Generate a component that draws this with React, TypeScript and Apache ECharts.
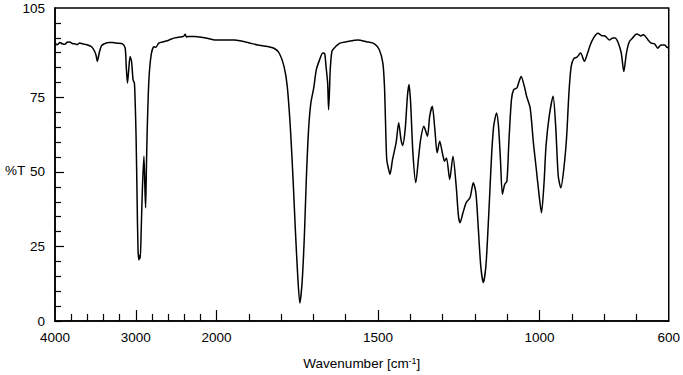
import React, { useEffect, useRef } from "react";
import * as echarts from "echarts";

// Wavenumber (cm-1) and %T
const wavenumbers = [
  4000, 3970, 3939, 3910, 3878, 3850, 3816, 3785, 3755, 3725, 3694, 3660, 3633, 3596, 3547, 3510, 3490, 3477, 3462, 3449,
  3425, 3388, 3327, 3287, 3229, 3164, 3131, 3119, 3103, 3088, 3070, 3052, 3033, 3017, 3009, 2996, 2984, 2972, 2960, 2951,
  2944, 2932, 2917, 2899, 2887, 2878, 2869, 2858, 2837, 2809, 2776, 2751, 2715, 2654, 2592, 2531, 2470, 2409, 2388, 2372,
  2348, 2274, 2189, 2103, 2021, 1980, 1944, 1903, 1873, 1842, 1822, 1806, 1791, 1781, 1771, 1763, 1756, 1748, 1742, 1735,
  1728, 1722, 1715, 1708, 1699, 1691, 1681, 1671, 1665, 1661, 1656, 1653, 1650, 1648, 1643, 1636, 1618, 1597, 1562, 1536,
  1511, 1496, 1485, 1480, 1477, 1473, 1467, 1463, 1455, 1444, 1436, 1429, 1424, 1416, 1409, 1404, 1399, 1392, 1383, 1375,
  1368, 1358, 1347, 1340, 1332, 1324, 1317, 1309, 1300, 1294, 1288, 1278, 1268, 1258, 1251, 1246, 1237, 1227, 1215, 1205,
  1197, 1190, 1182, 1174, 1166, 1159, 1154, 1148, 1142, 1133, 1127, 1121, 1115, 1108, 1101, 1095, 1087, 1080, 1070, 1065,
  1057, 1047, 1040, 1029, 1019, 1011, 1001, 994, 986, 980, 970, 958, 950, 942, 934, 924, 916, 909, 902, 894,
  884, 873, 861, 853, 843, 833, 819, 807, 797, 784, 773, 766, 756, 747, 739, 731, 722, 712, 700, 692,
  686, 680, 674, 664, 654, 644, 634, 624, 613, 606, 600,
];
const transmittance = [
  93.0, 92.7, 93.4, 93.0, 92.8, 93.5, 93.6, 93.1, 93.0, 92.7, 93.3, 93.0, 92.8, 92.6, 92.0, 90.5, 89.0, 87.1, 88.6, 90.3,
  92.3, 93.0, 93.4, 93.4, 93.2, 93.0, 91.5, 86.0, 79.8, 84.0, 88.7, 87.0, 80.9, 79.8, 75.0, 62.0, 42.0, 24.0, 20.5, 22.0,
  21.0, 31.0, 45.0, 55.3, 45.0, 38.0, 50.0, 64.2, 81.0, 89.3, 92.0, 91.8, 93.2, 93.7, 94.2, 94.9, 95.2, 95.5, 96.2, 95.3,
  95.4, 95.4, 95.2, 94.8, 94.3, 94.3, 94.3, 93.4, 92.6, 92.1, 91.5, 89.9, 85.4, 78.7, 64.2, 47.5, 30.8, 14.0, 6.0, 13.0,
  28.5, 47.5, 64.2, 73.1, 78.2, 84.3, 87.6, 89.9, 89.6, 85.4, 80.0, 70.9, 78.0, 84.3, 90.4, 91.5, 93.2, 93.7, 94.3, 93.7,
  93.0, 91.0, 86.5, 78.7, 67.6, 54.2, 50.8, 49.2, 54.2, 59.8, 66.5, 60.9, 58.9, 64.2, 75.4, 79.3, 73.1, 56.4, 46.4, 54.2,
  60.9, 65.3, 62.0, 68.7, 72.0, 64.2, 56.4, 60.3, 56.0, 53.6, 54.7, 47.5, 55.3, 45.2, 35.2, 33.0, 36.3, 39.7, 41.4, 46.4,
  43.0, 31.9, 18.5, 12.9, 18.5, 31.9, 43.0, 56.4, 65.3, 69.8, 65.3, 54.2, 42.5, 45.8, 46.9, 59.8, 74.2, 77.6, 78.2, 79.8,
  82.0, 78.7, 75.4, 71.5, 59.8, 51.9, 41.9, 36.3, 46.4, 58.6, 68.7, 75.4, 65.3, 48.6, 44.7, 51.9, 62.0, 76.5, 85.4, 88.0,
  88.5, 89.9, 87.1, 89.3, 92.6, 94.9, 96.5, 95.7, 95.6, 94.3, 94.9, 94.9, 93.2, 89.9, 83.7, 89.9, 93.7, 94.9, 96.3, 96.0,
  95.6, 96.0, 95.7, 94.3, 93.2, 93.0, 91.5, 92.6, 92.6, 91.9, 91.6,
];

const xLabelValues = [4000, 3000, 2000, 1500, 1000, 600];
const xMinorTicks = [3800, 3600, 3400, 3200, 2800, 2600, 2400, 2200, 1900, 1800, 1700, 1600, 1400, 1300, 1200, 1100, 900, 800, 700];
const xMajorTicks = [3000, 2000, 1500, 1000];
const yLabelValues = [0, 25, 50, 75, 105];
const yMinorTicks = [0, 5, 10, 15, 20, 30, 35, 40, 45, 55, 60, 65, 70, 80, 85, 90, 95, 100];
const yMajorTicks = [25, 50, 75];

// Axis is compressed 4x above 2000 cm-1
const toU = (w: number) => (w >= 2000 ? (4000 - w) / 4 : 500 + (2000 - w));
const fromU = (u: number) => (u <= 500 ? 4000 - 4 * u : 2500 - u);

export default function App() {
  const ref = useRef<HTMLDivElement>(null);
  useEffect(() => {
    document.body.style.margin = "0";
    const chart = echarts.init(ref.current!, null, { renderer: "svg" });
    const font = "'Liberation Sans', Arial, sans-serif";
    const fs = 13.5;
    const baseX = {
      type: "value" as const,
      min: 0,
      max: toU(600),
      gridIndex: 0,
      position: "bottom" as const,
      splitLine: { show: false },
    };
    const baseY = {
      type: "value" as const,
      min: 0,
      max: 105,
      gridIndex: 0,
      position: "left" as const,
      splitLine: { show: false },
    };
    chart.setOption({
      animation: false,
      grid: {
        left: 55,
        right: 7,
        top: 8,
        bottom: 53,
        show: true,
        borderColor: "#000",
        borderWidth: 1.5,
        backgroundColor: "transparent",
      },
      xAxis: [
        {
          ...baseX,
          axisLine: { show: true, lineStyle: { color: "#000", width: 1.5 } },
          axisTick: {
            show: true,
            inside: true,
            length: 7,
            lineStyle: { color: "#000", width: 1.2 },
            customValues: xMinorTicks.map(toU),
          },
          axisLabel: {
            show: true,
            margin: 9,
            color: "#000",
            fontSize: fs,
            fontFamily: font,
            customValues: xLabelValues.map(toU),
            formatter: (v: number) => String(Math.round(fromU(v))),
          },
          name: "Wavenumber [cm{sup|-1}]",
          nameLocation: "middle",
          nameGap: 35,
          nameTextStyle: {
            color: "#000",
            fontSize: fs,
            fontFamily: font,
            rich: {
              sup: { fontSize: 9, verticalAlign: "top", fontFamily: font, color: "#000", padding: [0, 0, 5, 0] },
            },
          },
        },
        {
          ...baseX,
          axisLine: { show: false },
          axisTick: {
            show: true,
            inside: true,
            length: 11,
            lineStyle: { color: "#000", width: 1.2 },
            customValues: xMajorTicks.map(toU),
          },
          axisLabel: { show: false },
        },
      ],
      yAxis: [
        {
          ...baseY,
          axisLine: { show: true, lineStyle: { color: "#000", width: 1.5 } },
          axisTick: {
            show: true,
            inside: true,
            length: 6,
            lineStyle: { color: "#000", width: 1.2 },
            customValues: yMinorTicks,
          },
          axisLabel: {
            show: true,
            margin: 10,
            color: "#000",
            fontSize: fs,
            fontFamily: font,
            customValues: yLabelValues,
          },
        },
        {
          ...baseY,
          axisLine: { show: false },
          axisTick: {
            show: true,
            inside: true,
            length: 9,
            lineStyle: { color: "#000", width: 1.2 },
            customValues: yMajorTicks,
          },
          axisLabel: { show: false },
        },
      ],
      graphic: [
        {
          type: "text",
          left: 5,
          top: 163,
          style: { text: "%T", fontSize: fs, fontFamily: font, fill: "#000" },
        },
      ],
      series: [
        {
          type: "line",
          xAxisIndex: 0,
          yAxisIndex: 0,
          data: wavenumbers.map((w, i) => [toU(w), transmittance[i]]),
          showSymbol: false,
          symbol: "none",
          smooth: 0.25,
          lineStyle: { color: "#000", width: 1.5 },
          clip: true,
        },
      ],
    });
    return () => chart.dispose();
  }, []);
  return <div ref={ref} style={{ position: "absolute", left: 0, top: 0, width: 683, height: 375 }} />;
}
